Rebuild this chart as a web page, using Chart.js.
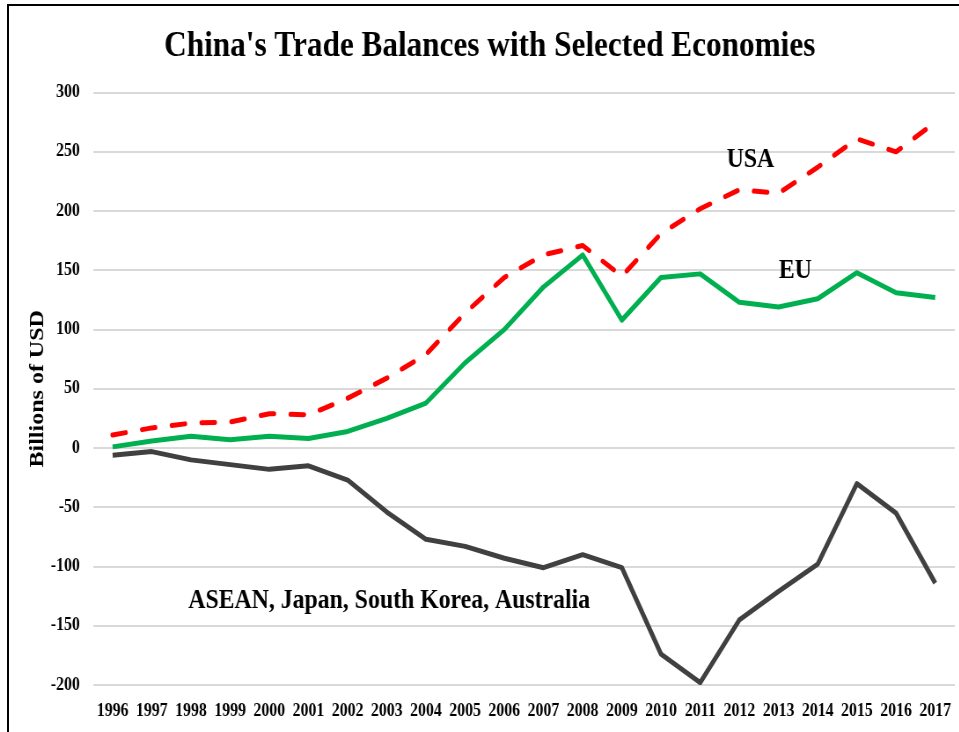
<!DOCTYPE html>
<html>
<head>
<meta charset="utf-8">
<script src="https://cdn.jsdelivr.net/npm/chart.js@4/dist/chart.umd.min.js"></script>
<style>
    html, body { margin: 0; padding: 0; background: #fff; overflow: hidden; }
    #frame { position: absolute; left: 7px; top: 4px; width: 1000px; height: 800px;
             border-left: 2px solid #000; border-top: 2px solid #000; }
    #wrap { position: absolute; left: 0; top: 0; width: 1090px; height: 732px;
            transform: scaleX(0.88); transform-origin: 0 0; }
</style>
</head>
<body>
<div id="frame"></div>
<div id="wrap"><canvas id="tradeChart" width="1090" height="732"></canvas></div>
<script>
// Data (billions of USD)
const years = ['1996', '1997', '1998', '1999', '2000', '2001', '2002', '2003', '2004', '2005', '2006',
    '2007', '2008', '2009', '2010', '2011', '2012', '2013', '2014', '2015', '2016', '2017'];
const usaBalance = [11, 17, 21, 22, 29, 28, 42, 59, 79, 114, 144, 163, 171, 145, 181, 202, 218, 215, 237, 261, 250, 275];
const euBalance = [1, 6, 10, 7, 10, 8, 14, 25, 38, 72, 100, 136, 163, 108, 144, 147, 123, 119, 126, 148, 131, 127];
const asiaBalance = [-6, -3, -10, -14, -18, -15, -27, -54, -77, -83, -93, -101, -90, -101, -174, -198, -145, -121, -98, -30, -55, -114];
const yTicks = { min: -200, max: 300, step: 50 };

// text labels placed next to the lines (x = category index, y = value)
const seriesLabels = [
    { text: 'USA', at: 16.28, value: 243 },
    { text: 'EU', at: 17.43, value: 149 },
    { text: 'ASEAN, Japan, South Korea, Australia', at: 7.06, value: -129 }
];

const serif = '"Liberation Serif", "Times New Roman", serif';

const labelPlugin = {
    id: 'seriesLabels',
    afterDatasetsDraw(chart) {
        const { ctx, scales: { x, y } } = chart;
        ctx.save();
        ctx.font = 'bold 27px ' + serif;
        ctx.fillStyle = '#000';
        ctx.textAlign = 'center';
        ctx.textBaseline = 'middle';
        seriesLabels.forEach((l) => {
            ctx.fillText(l.text, x.getPixelForValue(l.at), y.getPixelForValue(l.value));
        });
        ctx.restore();
    }
};

document.addEventListener('DOMContentLoaded', () => {
    const ctx = document.getElementById('tradeChart').getContext('2d');
    new Chart(ctx, {
        type: 'line',
        data: {
            labels: years,
            datasets: [{
                label: 'USA',
                data: usaBalance,
                borderColor: '#ff0000',
                borderWidth: 5,
                borderDash: [15, 19],
                borderCapStyle: 'round',
                borderJoinStyle: 'round',
                pointRadius: 0,
                tension: 0
            }, {
                label: 'EU',
                data: euBalance,
                borderColor: '#00b050',
                borderWidth: 5,
                borderJoinStyle: 'round',
                pointRadius: 0,
                tension: 0
            }, {
                label: 'ASEAN, Japan, South Korea, Australia',
                data: asiaBalance,
                borderColor: '#404040',
                borderWidth: 5,
                borderJoinStyle: 'round',
                pointRadius: 0,
                tension: 0
            }]
        },
        options: {
            responsive: false,
            animation: false,
            devicePixelRatio: 1,
            layout: { padding: { top: 8, left: 28, right: 5, bottom: 0 } },
            plugins: {
                legend: { display: false },
                tooltip: { enabled: false },
                title: {
                    display: true,
                    text: "China's Trade Balances with Selected Economies",
                    color: '#000',
                    font: { family: serif, size: 35.5, weight: 'bold' },
                    padding: { top: 18, bottom: 24 }
                }
            },
            scales: {
                x: {
                    offset: true,
                    grid: { display: false, drawTicks: false },
                    border: { display: false },
                    ticks: {
                        color: '#000',
                        font: { family: serif, size: 18, weight: 'bold' },
                        maxRotation: 0,
                        autoSkip: false,
                        padding: 16
                    },
                    afterFit: (scale) => {
                        scale.height = 47;
                        scale.paddingLeft = 0;
                        scale.paddingRight = 0;
                    }
                },
                y: {
                    min: yTicks.min,
                    max: yTicks.max,
                    grid: { color: '#d9d9d9', lineWidth: 2, drawTicks: false },
                    border: { display: false },
                    ticks: {
                        stepSize: yTicks.step,
                        color: '#000',
                        font: { family: serif, size: 18, weight: 'bold' },
                        padding: 15
                    },
                    title: {
                        display: true,
                        text: 'Billions of USD',
                        color: '#000',
                        font: { family: serif, size: 24, weight: 'bold' },
                        padding: { top: 0, bottom: 4 }
                    },
                    afterFit: (scale) => { scale.width = 77.7; }
                }
            }
        },
        plugins: [labelPlugin]
    });
});
</script>
</body>
</html>
